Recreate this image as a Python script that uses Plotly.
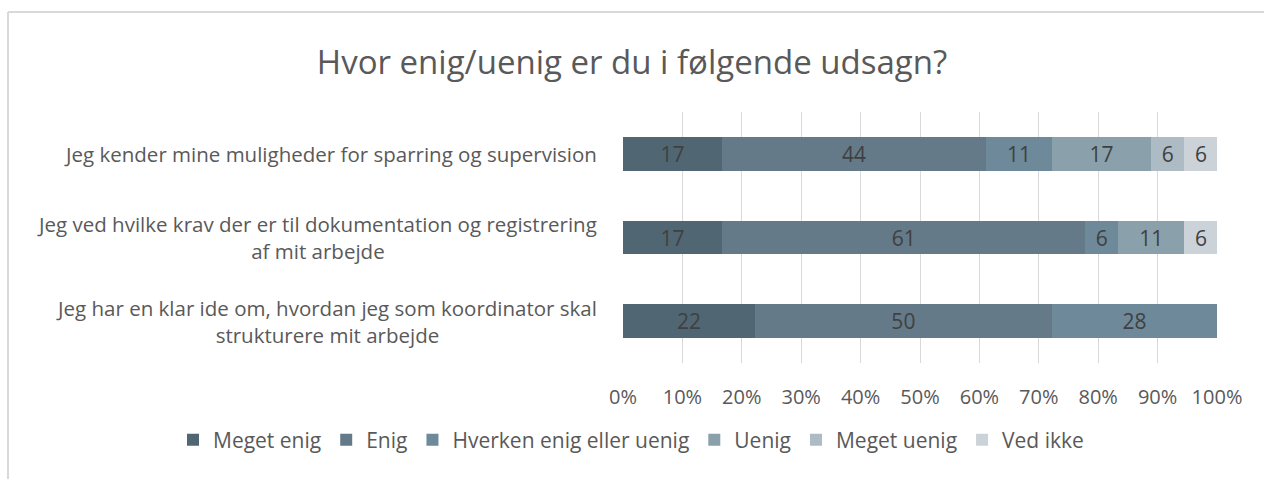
import plotly.graph_objects as go

statements = [
    "Jeg kender mine muligheder for sparring og supervision",
    "Jeg ved hvilke krav der er til dokumentation og registrering<br>af mit arbejde",
    "Jeg har en klar ide om, hvordan jeg som koordinator skal<br>strukturere mit arbejde",
]
series_names = ["Meget enig", "Enig", "Hverken enig eller uenig", "Uenig", "Meget uenig", "Ved ikke"]
meget_enig = [16.7, 16.7, 22.2]
enig = [44.4, 61.1, 50.0]
hverken = [11.1, 5.6, 27.8]
uenig = [16.7, 11.1, 0]
meget_uenig = [5.6, 0, 0]
ved_ikke = [5.6, 5.6, 0]
series_values = [meget_enig, enig, hverken, uenig, meget_uenig, ved_ikke]
colors = ["#506672", "#647a89", "#6e8a9a", "#8aa0ab", "#adbbc4", "#cbd3d8"]
tick_vals = [0, 10, 20, 30, 40, 50, 60, 70, 80, 90, 100]
tick_text = ["0%", "10%", "20%", "30%", "40%", "50%", "60%", "70%", "80%", "90%", "100%"]

FONT = "Open Sans"
L, R, T, B = 623, 47, 112, 116
PW, PH = 1264 - L - R, 479 - T - B

fig = go.Figure()
for name, vals, col in zip(series_names, series_values, colors):
    texts = [f"{v:.0f}" if v > 0 else "" for v in vals]
    fig.add_trace(go.Bar(
        y=statements, x=vals, name=name, orientation="h",
        marker=dict(color=col, line=dict(width=0)),
        text=texts, textposition="inside", insidetextanchor="middle",
        textfont=dict(family=FONT, size=21, color="#404040"),
        textangle=0, constraintext="none",
        hoverinfo="x+name",
    ))

for s in statements:
    fig.add_annotation(
        x=-24 / PW, xref="paper", y=s, yref="y", text=s, showarrow=False,
        xanchor="right", align="center",
        font=dict(family=FONT, size=20.5, color="#595959"),
    )

# chart border (partially visible)
x0 = (8 - L) / PW
y0 = (479 - B - 12) / PH
fig.add_shape(type="line", xref="paper", yref="paper", x0=x0, x1=x0, y0=-1, y1=y0,
              line=dict(color="#d9d9d9", width=2))
fig.add_shape(type="line", xref="paper", yref="paper", x0=x0, x1=1.2, y0=y0, y1=y0,
              line=dict(color="#d9d9d9", width=2))

fig.update_layout(
    width=1264, height=479,
    barmode="stack", bargap=0.6,
    plot_bgcolor="white", paper_bgcolor="white",
    margin=dict(l=L, r=R, t=T, b=B),
    title=dict(text="Hvor enig/uenig er du i følgende udsagn?", x=0.5, xref="container",
               xanchor="center", y=0.87, yanchor="middle", yref="container",
               font=dict(family=FONT, size=33, color="#595959")),
    xaxis=dict(range=[0, 100], tickvals=tick_vals, ticktext=tick_text,
               showgrid=True, gridcolor="#d9d9d9", gridwidth=1, zeroline=False,
               showline=False, ticklabelstandoff=20,
               tickfont=dict(family=FONT, size=20, color="#595959"), fixedrange=True),
    yaxis=dict(autorange="reversed", showticklabels=False, showgrid=False, zeroline=False,
               showline=False, fixedrange=True),
    legend=dict(orientation="h", x=(173 - L) / PW, xref="paper", xanchor="left",
                y=-(440 - (479 - B)) / PH, yanchor="middle",
                font=dict(family=FONT, size=21, color="#595959"), traceorder="normal",
                itemwidth=30),
    showlegend=True,
)
fig.write_html("out.html", config={"displayModeBar": False},
               post_script="document.body.style.margin='0';document.body.style.overflow='hidden';")
